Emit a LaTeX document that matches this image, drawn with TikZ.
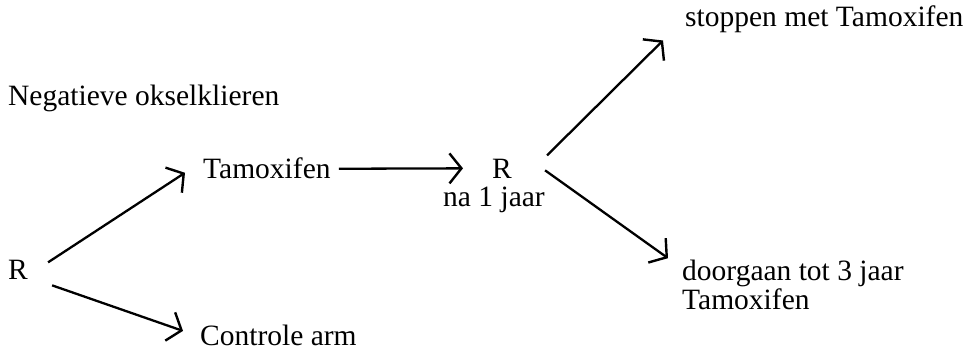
\documentclass[tikz,border=0pt]{standalone}
\usepackage{fontspec}
\setmainfont{Liberation Serif}
\usetikzlibrary{arrows.meta,calc}
\begin{document}
\begin{tikzpicture}[x=1pt,y=-1pt,
  lbl/.style={anchor=base west,inner sep=0pt,font=\fontsize{29.5}{27}\selectfont},
  arr/.style={line width=2.3pt,-{Straight Barb[length=12pt,width=30pt,line width=2.4pt]}}]
\useasboundingbox (0,0) rectangle (969,353);
\node[lbl] (neg) at (8,105) {Negatieve okselklieren};
\node[lbl] (R1) at (8,279) {R};
\node[lbl] (tam) at (203,178) {Tamoxifen};
\node[lbl] (ctrl) at (200,345) {Controle arm};
\node[lbl] (R2) at (492,178) {R};
\node[lbl] (na) at (443,206) {na 1 jaar};
\node[lbl] (stop) at (685,27) {stoppen met Tamoxifen};
\node[lbl,align=left] (door) at (682,309) {doorgaan tot 3 jaar\\Tamoxifen};
\draw[arr] ($(R1.east)+(20,-7)$) -- ($(tam.west)+(-18,5)$);
\draw[arr] ($(R1.east)+(24,16)$) -- ($(ctrl.west)+(-17,-4)$);
\draw[arr] ($(tam.east)+(8,1)$) -- ($(R2.west)+(-29,0)$);
\draw[arr] ($(R2.east)+(35,-13)$) -- ($(stop.south west)+(-22,7)$);
\draw[arr] ($(R2.east)+(33,2)$) -- ($(door.north west)+(-14,-2)$);
\end{tikzpicture}
\end{document}
